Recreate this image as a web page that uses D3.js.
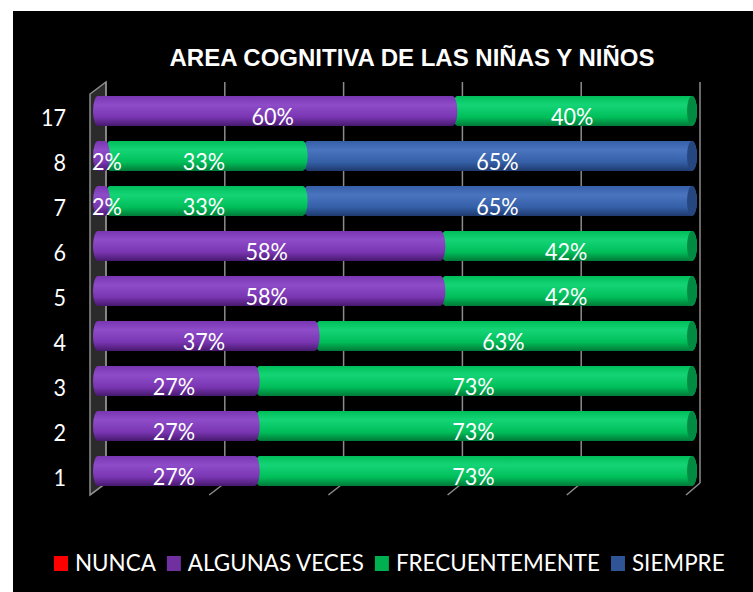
<!DOCTYPE html>
<html>
<head>
<meta charset="utf-8">
<script src="https://cdn.jsdelivr.net/npm/d3@7"></script>
<style>
  html, body { margin: 0; padding: 0; background: #fff; }
  svg { display: block; }
  .lbl { font-family: Lato, "Open Sans", sans-serif; fill: #fff; }
</style>
</head>
<body>
<svg id="chart" width="753" height="592"></svg>
<script>
// data (percent per row, top row first)
const categories = ['17', '8', '7', '6', '5', '4', '3', '2', '1'];
const nunca      = [0, 0, 0, 0, 0, 0, 0, 0, 0];
const algunas    = [60, 2, 2, 58, 58, 37, 27, 27, 27];
const frecuente  = [40, 33, 33, 42, 42, 63, 73, 73, 73];
const siempre    = [0, 65, 65, 0, 0, 0, 0, 0, 0];
const seriesNames = ['NUNCA', 'ALGUNAS VECES', 'FRECUENTEMENTE', 'SIEMPRE'];
const tickValues = [0, 20, 40, 60, 80, 100];
const title = 'AREA COGNITIVA DE LAS NIÑAS Y NIÑOS';

const colors = ['#ff0000', '#7030a0', '#00b050', '#2f5597'];
// cylinder shading: light, mid, dark
const shades = [
  ['#ff4d4d', '#e00000', '#8a0000'],
  ['#8e4cc8', '#7a36b2', '#47196e'],
  ['#14d476', '#00bf5a', '#007a38'],
  ['#4a74bf', '#3560a8', '#1f3a6e']
];
const capColors = ['#b00000', '#58228a', '#008a42', '#26467f'];

const svg = d3.select('#chart');

// black chart area (white margin top/left like the source)
svg.append('rect').attr('x', 13).attr('y', 11).attr('width', 740).attr('height', 581).attr('fill', '#000');

const defs = svg.append('defs');
shades.forEach((s, i) => {
  const g = defs.append('linearGradient').attr('id', 'cyl' + i)
    .attr('x1', 0).attr('y1', 0).attr('x2', 0).attr('y2', 1);
  g.append('stop').attr('offset', '0%').attr('stop-color', s[1]);
  g.append('stop').attr('offset', '30%').attr('stop-color', s[0]);
  g.append('stop').attr('offset', '70%').attr('stop-color', s[1]);
  g.append('stop').attr('offset', '100%').attr('stop-color', s[2]);
});

const x = d3.scaleLinear().domain([0, 100]).range([93, 692]);
const xBack = d3.scaleLinear().domain([0, 100]).range([106, 700]);
const xFront = d3.scaleLinear().domain([0, 100]).range([90, 686]);
const y = d3.scaleBand().domain(categories).range([88.5, 493.5]).padding(0);
const barH = 30;
const wall = { backTop: 82, backBottom: 483, frontTop: 94, frontBottom: 495 };

// title
svg.append('text')
  .attr('x', 412).attr('y', 66)
  .attr('text-anchor', 'middle')
  .attr('font-family', '"Liberation Sans", Arial, sans-serif')
  .attr('font-weight', 'bold')
  .attr('font-size', 24)
  .attr('fill', '#fff')
  .text(title);

// side wall
svg.append('path')
  .attr('d', `M${xFront(0)},${wall.frontTop} L${xBack(0)},${wall.backTop} L${xBack(0)},${wall.backBottom} L${xFront(0)},${wall.frontBottom} Z`)
  .attr('fill', '#2b2b2b')
  .attr('stroke', '#8c8c8c')
  .attr('stroke-width', 1.5);

// back wall gridlines + floor diagonals
const grid = svg.append('g').attr('stroke', '#8c8c8c').attr('stroke-width', 1.5).attr('fill', 'none');
grid.selectAll('line.v').data(tickValues).join('line').attr('class', 'v')
  .attr('x1', d => xBack(d)).attr('x2', d => xBack(d))
  .attr('y1', wall.backTop).attr('y2', wall.backBottom);
grid.selectAll('line.d').data(tickValues).join('line').attr('class', 'd')
  .attr('x1', d => xBack(d)).attr('y1', wall.backBottom)
  .attr('x2', d => xFront(d)).attr('y2', wall.frontBottom);

// stacked cylinders
const rows = categories.map((c, i) => ({
  cat: c, NUNCA: nunca[i], 'ALGUNAS VECES': algunas[i], FRECUENTEMENTE: frecuente[i], SIEMPRE: siempre[i]
}));
const stacked = d3.stack().keys(seriesNames)(rows);

const rx = 5;
const bars = svg.append('g');
rows.forEach((row, ri) => {
  const top = y(row.cat) + (y.bandwidth() - barH) / 2;
  const bot = top + barH;
  const segs = stacked.map((s, si) => ({ si, v0: s[ri][0], v1: s[ri][1] }))
    .filter(d => d.v1 > d.v0);
  const g = bars.append('g');
  // draw right to left so each segment's rounded end sits over the next one
  segs.slice().reverse().forEach((d, k) => {
    const x0 = x(d.v0) + rx, x1 = x(d.v1);
    g.append('path')
      .attr('d', `M${x0},${top} L${x1},${top} A${rx},${barH / 2} 0 0 1 ${x1},${bot} L${x0},${bot} A${rx},${barH / 2} 0 0 1 ${x0},${top} Z`)
      .attr('fill', `url(#cyl${d.si})`);
    if (k === 0) {
      g.append('ellipse')
        .attr('cx', x1).attr('cy', (top + bot) / 2)
        .attr('rx', rx).attr('ry', barH / 2)
        .attr('fill', capColors[d.si]);
    }
  });
  // value labels
  segs.forEach(d => {
    const x0 = x(d.v0), x1 = x(d.v1);
    const t = g.append('text').attr('class', 'lbl')
      .attr('font-size', 24)
      .attr('text-anchor', 'middle')
      .text(Math.round(d.v1 - d.v0) + '%');
    const w = t.node().getComputedTextLength() * 0.9;
    const cx = Math.max((x0 + x1) / 2, x(d.v0) - 1 + w / 2);
    t.attr('transform', `translate(${cx},${bot - 1}) scale(0.9,1)`);
  });
});

// category labels
svg.append('g').selectAll('text').data(categories).join('text')
  .attr('class', 'lbl')
  .attr('font-size', 24)
  .attr('text-anchor', 'end')
  .attr('transform', d => `translate(66,${y(d) + y.bandwidth() / 2 + 15}) scale(0.9,1)`)
  .text(d => d);

// legend
const legend = svg.append('g').attr('transform', 'translate(54,556)');
let lx = 0;
seriesNames.forEach((name, i) => {
  legend.append('rect').attr('x', lx).attr('y', 0).attr('width', 14).attr('height', 15).attr('fill', colors[i]);
  const t = legend.append('text').attr('class', 'lbl')
    .attr('font-size', 23)
    .attr('transform', `translate(${lx + 21},15) scale(0.975,1)`)
    .text(name);
  lx += 21 + t.node().getComputedTextLength() * 0.975 + 11;
});
</script>
</body>
</html>
